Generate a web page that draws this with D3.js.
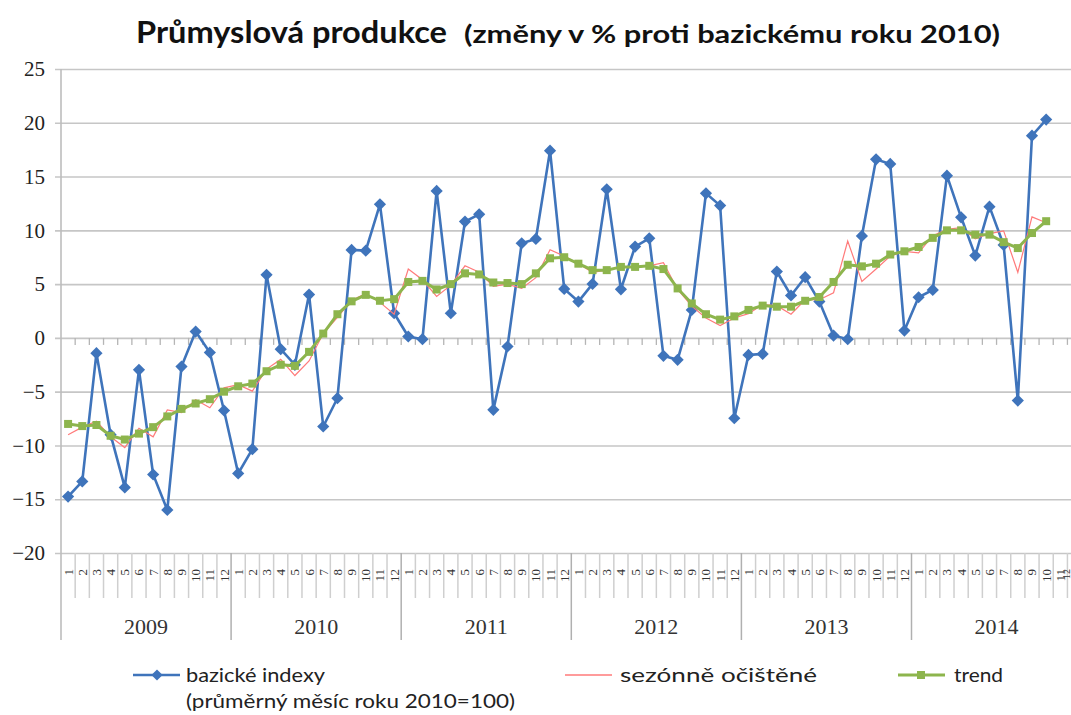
<!DOCTYPE html>
<html>
<head>
<meta charset="utf-8">
<script src="https://cdn.jsdelivr.net/npm/d3@7"></script>
<style>
  body { margin: 0; background: #fff; }
  svg { display: block; }
</style>
</head>
<body>
<div id="chart"></div>
<script>
// monthly values, Jan 2009 .. Oct 2014 (changes in % vs. 2010 average)
const years = ['2009', '2010', '2011', '2012', '2013', '2014'];
const monthLabels = ['1', '2', '3', '4', '5', '6', '7', '8', '9', '10', '11', '12'];

const bazickeIndexy = [
  -14.75, -13.35, -1.42, -9.0, -13.9, -2.97, -12.7, -16.0, -2.67, 0.59, -1.36, -6.75,
  -12.6, -10.35, 5.86, -1.05, -2.5, 4.03, -8.24, -5.61, 8.18, 8.11, 12.42, 2.29,
  0.13, -0.12, 13.66, 2.29, 10.81, 11.49, -6.69, -0.8, 8.8, 9.2, 17.41, 4.55,
  3.38, 5.02, 13.82, 4.52, 8.49, 9.26, -1.67, -2.04, 2.6, 13.44, 12.3, -7.47,
  -1.58, -1.49, 6.17, 3.94, 5.64, 3.38, 0.22, -0.12, 9.48, 16.6, 16.17, 0.68,
  3.78, 4.46, 15.08, 11.21, 7.65, 12.2, 8.64, -5.83, 18.8, 20.3
];

const sezonneOcistene = [
  -9.0, -8.3, -7.75, -9.2, -10.2, -8.4, -9.2, -6.7, -6.95, -5.75, -6.5, -4.65,
  -4.35, -4.95, -2.9, -2.0, -3.5, -2.15, 0.4, 1.9, 3.5, 4.1, 3.3, 2.2,
  6.4, 5.4, 3.85, 4.9, 6.7, 6.1, 4.8, 5.0, 4.6, 5.6, 8.2, 7.6,
  6.9, 6.1, 6.3, 6.6, 6.6, 6.7, 7.0, 4.5, 2.95, 1.85, 1.15, 1.85,
  2.25, 3.1, 3.0, 2.2, 3.55, 3.55, 4.2, 9.0, 5.25, 6.4, 7.6, 8.05,
  7.9, 9.5, 10.1, 10.25, 9.2, 9.7, 9.95, 6.1, 11.25, 10.7
];

const trend = [
  -8.0, -8.2, -8.1, -9.1, -9.45, -8.9, -8.3, -7.3, -6.6, -6.1, -5.7, -5.0,
  -4.5, -4.25, -3.1, -2.5, -2.6, -1.3, 0.4, 2.2, 3.4, 4.0, 3.45, 3.6,
  5.2, 5.3, 4.5, 5.0, 6.0, 5.9, 5.15, 5.1, 5.0, 6.0, 7.4, 7.5,
  6.9, 6.3, 6.3, 6.6, 6.6, 6.7, 6.4, 4.6, 3.2, 2.2, 1.7, 2.0,
  2.6, 3.0, 2.9, 2.9, 3.45, 3.8, 5.2, 6.8, 6.65, 6.9, 7.75, 8.05,
  8.45, 9.3, 10.0, 10.0, 9.6, 9.6, 8.9, 8.35, 9.75, 10.85
];

const yTicks = [-20, -15, -10, -5, 0, 5, 10, 15, 20, 25];

const width = 1071;
const height = 715;
const margin = {top: 69, left: 61, bottom: 553};
const monthW = 14.175;
const nMonths = years.length * 12;

const svg = d3.select('#chart')
  .append('svg')
    .attr('width', width)
    .attr('height', height);

svg.append('rect').attr('width', width).attr('height', height).attr('fill', '#fff');

const x = d3.scaleBand()
  .domain(d3.range(nMonths))
  .range([margin.left, margin.left + nMonths * monthW])
  .padding(0);

const y = d3.scaleLinear()
  .domain([-20, 25])
  .range([margin.bottom, margin.top]);

const cx = i => x(i) + x.bandwidth() / 2;

// horizontal gridlines + y labels
const yAxis = svg.append('g')
  .attr('transform', `translate(${margin.left}, 0)`)
  .call(d3.axisLeft(y).tickValues(yTicks).tickSize(-(width - margin.left + 10)).tickPadding(16).tickFormat(d3.format('d')));
yAxis.select('.domain').remove();
yAxis.selectAll('line')
  .attr('x1', -6)
  .attr('stroke', '#c6c6c6')
  .attr('stroke-width', 1.6);
yAxis.selectAll('text')
  .attr('font-family', 'Liberation Serif, serif')
  .attr('font-size', 21)
  .attr('fill', '#222');

// left axis line
svg.append('line')
  .attr('x1', margin.left).attr('x2', margin.left)
  .attr('y1', margin.top).attr('y2', 640)
  .attr('stroke', '#bdbdbd').attr('stroke-width', 1.6);

// zero axis with small month ticks
const bounds = d3.range(nMonths + 1).map(i => margin.left + i * monthW);
svg.append('g').selectAll('line')
  .data(bounds.slice(1))
  .join('line')
    .attr('x1', d => d).attr('x2', d => d)
    .attr('y1', y(0)).attr('y2', y(0) + 7)
    .attr('stroke', '#b5b5b5').attr('stroke-width', 1.3);

// category area lines (months short, years long)
svg.append('g').selectAll('line')
  .data(bounds.slice(1))
  .join('line')
    .attr('x1', d => d).attr('x2', d => d)
    .attr('y1', margin.bottom)
    .attr('y2', (d, i) => (i + 1) % 12 === 0 ? 640 : 598)
    .attr('stroke', (d, i) => (i + 1) % 12 === 0 ? '#b0b0b0' : '#cfcfcf')
    .attr('stroke-width', 1.5);

// month labels (rotated), the last one squeezed inside the edge
svg.append('g').selectAll('text')
  .data(d3.range(nMonths))
  .join('text')
    .attr('transform', i => `translate(${Math.min(cx(i), width - 5)}, 569) rotate(-90)`)
    .attr('text-anchor', 'end')
    .attr('dominant-baseline', 'central')
    .attr('font-family', 'Liberation Serif, serif')
    .attr('font-size', i => cx(i) > width - 5 ? 10 : 13)
    .attr('fill', '#333')
    .text(i => monthLabels[i % 12]);

// year labels
svg.append('g').selectAll('text')
  .data(years)
  .join('text')
    .attr('x', (d, i) => margin.left + (i + 0.5) * 12 * monthW)
    .attr('y', 634)
    .attr('text-anchor', 'middle')
    .attr('font-family', 'Liberation Serif, serif')
    .attr('font-size', 22)
    .attr('fill', '#333')
    .text(d => d);

// series
const line = d3.line().x((d, i) => cx(i)).y(d => y(d));

svg.append('path')
  .attr('d', line(bazickeIndexy))
  .attr('fill', 'none')
  .attr('stroke', '#3f74bb')
  .attr('stroke-width', 2.6);

svg.append('g').selectAll('path')
  .data(bazickeIndexy)
  .join('path')
    .attr('d', d3.symbol(d3.symbolDiamond2, 95))
    .attr('transform', (d, i) => `translate(${cx(i)}, ${y(d)})`)
    .attr('fill', '#3f74bb');

svg.append('path')
  .attr('d', line(sezonneOcistene))
  .attr('fill', 'none')
  .attr('stroke', '#ff7a7a')
  .attr('stroke-width', 1.2);

svg.append('path')
  .attr('d', line(trend))
  .attr('fill', 'none')
  .attr('stroke', '#8db54d')
  .attr('stroke-width', 3);

svg.append('g').selectAll('rect')
  .data(trend)
  .join('rect')
    .attr('x', (d, i) => cx(i) - 4)
    .attr('y', d => y(d) - 4)
    .attr('width', 8)
    .attr('height', 8)
    .attr('fill', '#8db54d');

// title
svg.append('text')
  .attr('x', 136).attr('y', 43)
  .attr('font-family', 'Lato, sans-serif').attr('font-weight', 'bold')
  .attr('font-size', 30).attr('fill', '#111')
  .attr('textLength', 311).attr('lengthAdjust', 'spacingAndGlyphs')
  .text('Průmyslová produkce');
svg.append('text')
  .attr('x', 464).attr('y', 43)
  .attr('font-family', 'Lato, sans-serif').attr('font-weight', 'bold')
  .attr('font-size', 25).attr('fill', '#111')
  .attr('textLength', 536).attr('lengthAdjust', 'spacingAndGlyphs')
  .text('(změny v % proti bazickému roku 2010)');

// legend
const legendFont = 'Lato, sans-serif';
const lg = svg.append('g');
const legendText = (tx, ty, len, s) => lg.append('text')
  .attr('x', tx).attr('y', ty)
  .attr('font-family', legendFont).attr('font-size', 20).attr('fill', '#222')
  .attr('textLength', len).attr('lengthAdjust', 'spacingAndGlyphs')
  .text(s);

lg.append('line').attr('x1', 133).attr('x2', 180).attr('y1', 675).attr('y2', 675)
  .attr('stroke', '#3f74bb').attr('stroke-width', 2.6);
lg.append('path').attr('d', d3.symbol(d3.symbolDiamond2, 80))
  .attr('transform', 'translate(157, 675)').attr('fill', '#3f74bb');
legendText(186, 682, 139, 'bazické indexy');
legendText(186, 708, 329, '(průměrný měsíc roku 2010=100)');

lg.append('line').attr('x1', 565).attr('x2', 612).attr('y1', 675).attr('y2', 675)
  .attr('stroke', '#ff7a7a').attr('stroke-width', 1.3);
legendText(620, 682, 197, 'sezónně očištěné');

lg.append('line').attr('x1', 898).attr('x2', 945).attr('y1', 675).attr('y2', 675)
  .attr('stroke', '#8db54d').attr('stroke-width', 3);
lg.append('rect').attr('x', 917).attr('y', 671).attr('width', 8).attr('height', 8)
  .attr('fill', '#8db54d');
legendText(954, 682, 49, 'trend');
</script>
</body>
</html>
